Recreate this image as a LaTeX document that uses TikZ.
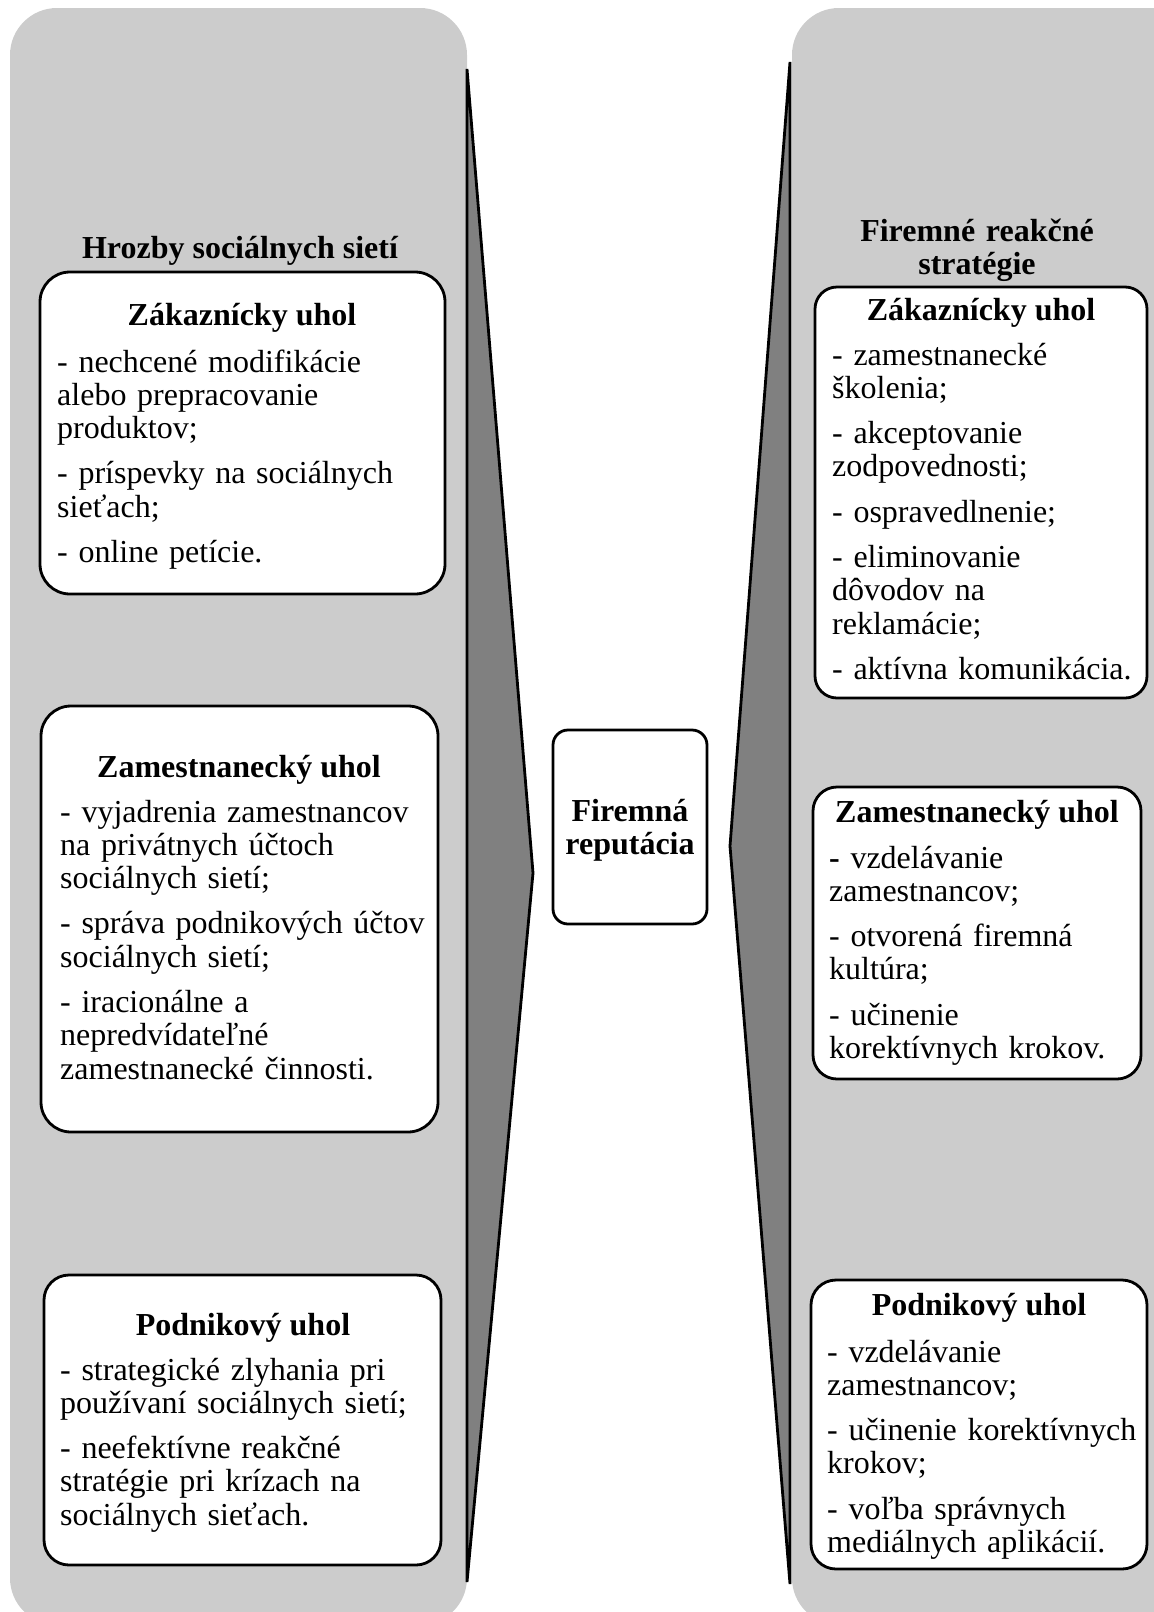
\documentclass[tikz,border=0pt]{standalone}
\usepackage{fontspec}
\setmainfont{Liberation Serif}
\definecolor{panelgray}{RGB}{204,204,204}
\definecolor{wedgegray}{RGB}{128,128,128}
\newcommand{\bodyfont}{\fontsize{32pt}{33.3pt}\selectfont\setlength{\parskip}{12pt}}
\begin{document}
\begin{tikzpicture}[x=1pt,y=-1pt,
  panel/.style={fill=panelgray, draw=none, rounded corners=47pt},
  wedge/.style={fill=wedgegray, draw=black, line width=2.8pt, line join=miter},
  card/.style={draw=black, fill=white, line width=2.8pt, inner sep=0pt, rounded corners=#1},
  heading/.style={font=\fontsize{32pt}{33.3pt}\selectfont\bfseries, inner sep=0pt, anchor=base},
  headblock/.style={font=\fontsize{32pt}{33pt}\selectfont\bfseries, inner sep=0pt, anchor=base, text width=#1, align=center},
  body/.style={font=\bodyfont, inner sep=0pt, anchor=base west, text width=420pt, align=left}
]
\useasboundingbox (0,0) rectangle (1154,1612);
\begin{scope}
\clip (0,0) rectangle (1154,1612);
% side panels
\fill[panel] (10,8) rectangle (467,1625);
\fill[panel] (792,8) rectangle (1200,1625);
% wedges
\draw[wedge] (467,69) -- (533,873) -- (467,1582) -- cycle;
\draw[wedge] (790,62) -- (730,846) -- (790,1584) -- cycle;
\end{scope}

% panel headings
\node[heading] (lhead) at (240,258) {Hrozby sociálnych sietí};
\node[headblock=320pt] (rhead) at (977,241) {Firemné reakčné\\stratégie};

% boxes
\node[card=30pt, minimum width=405pt, minimum height=322pt] (l1) at (242.5,433) {};
\node[card=30pt, minimum width=397pt, minimum height=426pt] (l2) at (239.5,919) {};
\node[card=25pt, minimum width=397pt, minimum height=290pt] (l3) at (242.5,1420) {};
\node[card=22pt, minimum width=332pt, minimum height=411pt] (r1) at (981,492.5) {};
\node[card=24pt, minimum width=328pt, minimum height=292pt] (r2) at (977,933) {};
\node[card=25pt, minimum width=336pt, minimum height=289pt] (r3) at (979,1424.5) {};
\node[card=15pt, minimum width=154pt, minimum height=194pt] (mid) at (630,827) {};

% centre text
\node[headblock=200pt] (midtext) at (630,821) {Firemná\\reputácia};

% box titles
\node[heading] (l1t) at (242,325) {Zákaznícky uhol};
\node[heading] (l2t) at (239,777) {Zamestnanecký uhol};
\node[heading] (l3t) at (243,1335) {Podnikový uhol};
\node[heading] (r1t) at (981,320) {Zákaznícky uhol};
\node[heading] (r2t) at (977,822) {Zamestnanecký uhol};
\node[heading] (r3t) at (979,1315) {Podnikový uhol};

% box bodies
\node[body] (l1b) at (57,372) {- nechcené modifikácie\\alebo prepracovanie\\produktov;\par
- príspevky na sociálnych\\sieťach;\par
- online petície.};
\node[body] (l2b) at (60,822) {- vyjadrenia zamestnancov\\na privátnych účtoch\\sociálnych sietí;\par
- správa podnikových účtov\\sociálnych sietí;\par
- iracionálne a\\nepredvídateľné\\zamestnanecké činnosti.};
\node[body] (l3b) at (60,1380) {- strategické zlyhania pri\\používaní sociálnych sietí;\par
- neefektívne reakčné\\stratégie pri krízach na\\sociálnych sieťach.};
\node[body] (r1b) at (832,365) {- zamestnanecké\\školenia;\par
- akceptovanie\\zodpovednosti;\par
- ospravedlnenie;\par
- eliminovanie\\dôvodov na\\reklamácie;\par
- aktívna komunikácia.};
\node[body] (r2b) at (829,868) {{\bfseries -} vzdelávanie\\zamestnancov;\par
- otvorená firemná\\kultúra;\par
- učinenie\\korektívnych krokov.};
\node[body] (r3b) at (827,1362) {- vzdelávanie\\zamestnancov;\par
- učinenie korektívnych\\krokov;\par
- voľba správnych\\mediálnych aplikácií.};
\end{tikzpicture}
\end{document}
